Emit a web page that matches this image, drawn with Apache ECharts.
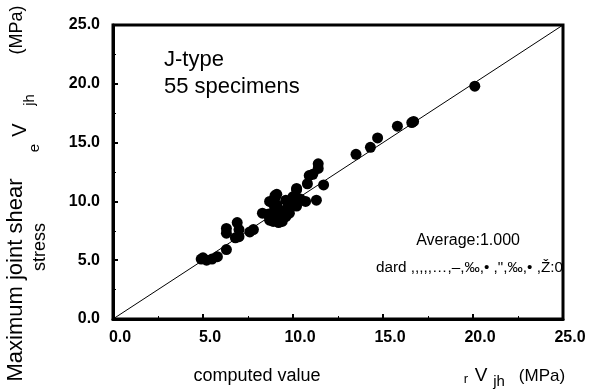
<!DOCTYPE html>
<html>
<head>
<meta charset="utf-8">
<script src="https://cdn.jsdelivr.net/npm/echarts@6/dist/echarts.min.js"></script>
<style>
html,body{margin:0;padding:0;background:#fff;}
#c{width:592px;height:392px;}
</style>
</head>
<body>
<div id="c"></div>
<script>
// computed value rVjh (MPa)
var computedX = [4.9,5.0,5.2,5.5,5.8,6.3,6.3,6.3,6.8,6.9,7.0,7.0,7.6,7.8,8.3,8.6,8.7,8.7,8.8,8.9,8.9,9.0,9.0,9.1,9.1,9.2,9.2,9.3,9.4,9.5,9.6,9.6,9.7,9.8,9.9,10.0,10.2,10.2,10.2,10.4,10.7,10.8,10.9,11.1,11.3,11.4,11.4,11.7,13.5,14.3,14.7,15.8,16.6,16.7,20.1];
// maximum joint shear stress eVjh (MPa)
var measuredY = [5.1,5.2,5.0,5.1,5.3,5.9,7.3,7.7,6.9,8.2,7.0,7.6,7.4,7.6,9.0,8.9,8.4,10.0,9.0,9.8,8.3,10.3,10.5,9.7,10.6,9.0,8.2,8.5,8.3,9.2,8.7,10.1,9.5,9.0,10.1,10.4,11.0,9.6,11.1,10.2,10.0,11.5,12.2,12.3,10.1,13.2,12.8,11.4,14.0,14.6,15.4,16.4,16.7,16.8,19.8];
var refLine = [[0,0],[25,25]];
var axisMin = 0, axisMax = 25, axisStep = 5;

var points = computedX.map(function(x,i){ return [x, measuredY[i]]; });
var font = '"Liberation Sans", Arial, sans-serif';

var chart = echarts.init(document.getElementById('c'), null, {renderer:'canvas'});
chart.setOption({
  animation:false,
  backgroundColor:'#ffffff',
  grid:{left:113, right:29, top:25, bottom:73, show:true, borderColor:'#000', borderWidth:3, backgroundColor:'transparent'},
  xAxis:{
    type:'value', min:axisMin, max:axisMax, interval:axisStep,
    axisLine:{show:true, onZero:false, lineStyle:{color:'#000', width:3}},
    axisTick:{show:true, inside:true, length:5, lineStyle:{color:'#000', width:2}},
    minorTick:{show:true, splitNumber:2, length:3, lineStyle:{color:'#000', width:1}},
    splitLine:{show:false},
    axisLabel:{color:'#000', fontFamily:font, fontWeight:'bold', fontSize:16, margin:11, padding:[0,0,0,14],
      formatter:function(v){return v.toFixed(1);}}
  },
  yAxis:{
    type:'value', min:axisMin, max:axisMax, interval:axisStep,
    axisLine:{show:true, onZero:false, lineStyle:{color:'#000', width:3}},
    axisTick:{show:true, inside:true, length:5, lineStyle:{color:'#000', width:2}},
    minorTick:{show:true, splitNumber:2, length:3, lineStyle:{color:'#000', width:1}},
    splitLine:{show:false},
    axisLabel:{color:'#000', fontFamily:font, fontWeight:'bold', fontSize:16, margin:13,
      formatter:function(v){return v.toFixed(1);}}
  },
  series:[
    {type:'line', data:refLine, symbol:'none', silent:true, lineStyle:{color:'#000', width:1}, z:1},
    {type:'scatter', data:points, symbol:'circle', symbolSize:11, itemStyle:{color:'#000', opacity:1}, z:2}
  ],
  graphic:[
    {type:'text', left:164, top:49, style:{text:'J-type', font:'22px '+font, fill:'#000'}},
    {type:'text', left:164, top:76, style:{text:'55 specimens', font:'22px '+font, fill:'#000'}},
    {type:'text', right:72, top:233, style:{text:'Average:1.000', font:'16px '+font, fill:'#000'}},
    {type:'text', left:376, top:260, style:{text:'dard ,,,,,…,–,‰,• ,",‰,• ,Ž:0', font:'15.3px '+font, fill:'#000'}},
    {type:'text', x:257, y:376, style:{text:'computed value', font:'18px '+font, fill:'#000', textAlign:'center', textVerticalAlign:'middle'}},
    {type:'text', x:466, y:379, style:{text:'r', font:'13px '+font, fill:'#000', textAlign:'center', textVerticalAlign:'middle'}},
    {type:'text', x:481, y:376, style:{text:'V', font:'19px '+font, fill:'#000', textAlign:'center', textVerticalAlign:'middle'}},
    {type:'text', x:499, y:382, style:{text:'jh', font:'15px '+font, fill:'#000', textAlign:'center', textVerticalAlign:'middle'}},
    {type:'text', x:542, y:376, style:{text:'(MPa)', font:'17px '+font, fill:'#000', textAlign:'center', textVerticalAlign:'middle'}},
    {type:'text', x:16, y:280, rotation:Math.PI/2, style:{text:'Maximum joint shear', font:'22px '+font, fill:'#000', textAlign:'center', textVerticalAlign:'middle'}},
    {type:'text', x:40, y:247, rotation:Math.PI/2, style:{text:'stress', font:'18px '+font, fill:'#000', textAlign:'center', textVerticalAlign:'middle'}},
    {type:'text', x:35, y:148, rotation:Math.PI/2, style:{text:'e', font:'15px '+font, fill:'#000', textAlign:'center', textVerticalAlign:'middle'}},
    {type:'text', x:20, y:130, rotation:Math.PI/2, style:{text:'V', font:'20px '+font, fill:'#000', textAlign:'center', textVerticalAlign:'middle'}},
    {type:'text', x:30, y:100, rotation:Math.PI/2, style:{text:'jh', font:'15px '+font, fill:'#000', textAlign:'center', textVerticalAlign:'middle'}},
    {type:'text', x:17, y:30, rotation:Math.PI/2, style:{text:'(MPa)', font:'18px '+font, fill:'#000', textAlign:'center', textVerticalAlign:'middle'}}
  ]
});
</script>
</body>
</html>
